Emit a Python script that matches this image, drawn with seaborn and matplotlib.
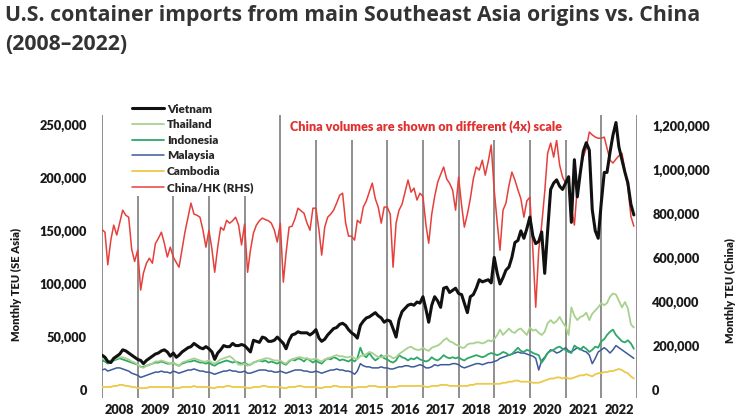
import matplotlib
matplotlib.use('Agg')
import matplotlib.pyplot as plt
import matplotlib.dates as mdates
from matplotlib.ticker import FuncFormatter
import numpy as np
import pandas as pd
import seaborn as sns

# monthly TEU in thousands, Jan 2008 - Dec 2022
vietnam = [
    33, 31, 27, 26, 30, 32, 34, 38, 37, 35, 33, 31,
    29, 28, 25, 28, 30, 32, 34, 35, 37, 38, 36, 32,
    35, 31, 33, 36, 38, 40, 41, 44, 42, 40, 39, 41,
    39, 36, 29, 35, 38, 42, 41, 41, 44, 42, 42, 43,
    42, 39, 36, 47, 46, 45, 50, 49, 46, 46, 47, 50,
    47, 44, 39, 47, 52, 53, 55, 54, 54, 54, 52, 54,
    57, 49, 46, 48, 52, 55, 58, 59, 62, 63, 61, 57,
    54, 52, 49, 61, 65, 68, 69, 71, 73, 70, 68, 64,
    66, 65, 58, 50, 66, 74, 77, 80, 81, 80, 83, 82,
    88, 76, 64, 80, 88, 84, 78, 96, 97, 92, 94, 96,
    91, 90, 82, 73, 88, 90, 96, 104, 102, 103, 104, 101,
    125, 110, 100, 106, 113, 116, 125, 139, 141, 150, 143, 152,
    163, 145, 138, 140, 149, 110, 150, 189, 195, 198, 192, 189,
    195, 201, 158, 217, 182, 205, 225, 233, 226, 170, 150, 143,
    176, 205, 205, 224, 240, 252, 229, 217, 205, 195, 175, 165,
]
thailand = [
    30, 29, 27, 28, 29, 30, 31, 31, 30, 29, 27, 26,
    24, 22, 21, 23, 24, 25, 27, 27, 28, 27, 26, 25,
    26, 24, 23, 26, 27, 28, 29, 30, 29, 28, 27, 27,
    28, 26, 25, 27, 29, 30, 31, 32, 30, 27, 24, 24,
    25, 23, 24, 26, 27, 28, 29, 30, 30, 29, 28, 28,
    28, 26, 25, 28, 29, 30, 31, 31, 30, 30, 29, 29,
    30, 28, 27, 29, 30, 31, 32, 33, 32, 32, 31, 31,
    32, 30, 29, 32, 33, 34, 36, 35, 33, 31, 31, 32,
    33, 32, 30, 31, 34, 36, 38, 40, 41, 39, 38, 38,
    40, 38, 37, 40, 41, 42, 44, 47, 49, 46, 45, 43,
    42, 40, 40, 43, 44, 44, 45, 45, 44, 45, 47, 46,
    48, 52, 57, 52, 55, 58, 55, 54, 57, 58, 55, 52,
    59, 56, 57, 54, 52, 55, 63, 66, 63, 65, 69, 64,
    60, 52, 78, 70, 66, 69, 70, 73, 66, 72, 75, 78,
    82, 80, 82, 88, 91, 90, 84, 78, 83, 77, 62, 59,
]
indonesia = [
    28, 27, 25, 27, 28, 29, 30, 29, 28, 27, 26, 25,
    24, 22, 22, 23, 24, 25, 26, 26, 27, 26, 25, 25,
    26, 24, 23, 25, 26, 27, 27, 28, 27, 26, 26, 25,
    26, 24, 23, 25, 26, 27, 28, 27, 26, 27, 26, 25,
    26, 24, 24, 26, 27, 28, 27, 28, 26, 27, 26, 25,
    27, 25, 24, 27, 29, 28, 30, 29, 27, 30, 28, 26,
    28, 26, 25, 28, 30, 29, 31, 30, 28, 29, 28, 27,
    29, 27, 30, 40, 33, 31, 35, 31, 28, 30, 33, 30,
    29, 27, 26, 28, 33, 31, 30, 28, 30, 29, 31, 29,
    28, 27, 28, 31, 29, 28, 30, 33, 31, 30, 31, 30,
    31, 29, 28, 30, 31, 32, 33, 32, 31, 32, 34, 35,
    34, 33, 34, 36, 35, 33, 34, 37, 40, 37, 36, 38,
    37, 35, 34, 33, 26, 30, 35, 37, 38, 40, 41, 39,
    38, 36, 35, 42, 40, 38, 41, 39, 36, 38, 41, 40,
    46, 48, 52, 55, 57, 52, 49, 46, 45, 47, 44, 39,
]
malaysia = [
    19, 20, 18, 19, 20, 21, 21, 20, 19, 18, 16, 15,
    14, 12, 13, 14, 15, 16, 17, 17, 18, 17, 17, 16,
    18, 17, 16, 17, 18, 19, 19, 20, 19, 18, 18, 17,
    17, 16, 15, 16, 17, 18, 18, 19, 18, 18, 17, 17,
    18, 16, 16, 17, 18, 19, 19, 19, 18, 18, 17, 17,
    18, 17, 16, 17, 18, 19, 19, 19, 18, 18, 17, 17,
    18, 17, 16, 17, 18, 19, 19, 20, 19, 19, 18, 18,
    17, 15, 18, 25, 23, 22, 22, 21, 21, 21, 22, 21,
    21, 20, 20, 21, 22, 22, 23, 23, 22, 22, 23, 24,
    23, 21, 21, 22, 24, 23, 24, 24, 24, 24, 25, 25,
    24, 22, 21, 22, 23, 24, 25, 25, 24, 25, 26, 26,
    27, 28, 30, 31, 32, 33, 34, 35, 36, 35, 35, 34,
    33, 32, 30, 19, 28, 31, 35, 38, 37, 35, 36, 38,
    40, 37, 36, 38, 40, 39, 37, 36, 33, 25, 30, 36,
    38, 40, 38, 35, 38, 42, 40, 38, 36, 34, 32, 30,
]
cambodia = [
    3, 3, 3, 3, 4, 4, 5, 5, 4, 4, 3, 3,
    2, 2, 2, 2, 3, 3, 3, 3, 3, 3, 3, 3,
    2, 2, 2, 3, 3, 3, 3, 4, 3, 3, 3, 3,
    3, 2, 2, 3, 3, 3, 4, 4, 3, 3, 3, 3,
    3, 2, 2, 3, 3, 3, 4, 4, 3, 3, 3, 3,
    3, 2, 2, 3, 3, 3, 4, 4, 3, 3, 3, 3,
    3, 2, 2, 3, 3, 3, 4, 4, 3, 3, 3, 3,
    3, 2, 3, 3, 3, 3, 4, 4, 4, 3, 3, 3,
    3, 3, 3, 3, 4, 4, 4, 4, 4, 4, 4, 4,
    4, 3, 3, 4, 4, 4, 5, 5, 5, 4, 4, 4,
    4, 4, 4, 4, 5, 5, 6, 6, 6, 6, 6, 6,
    6, 6, 6, 7, 7, 8, 8, 9, 9, 8, 8, 8,
    8, 7, 7, 7, 8, 9, 10, 11, 11, 12, 12, 11,
    12, 11, 11, 12, 13, 14, 14, 15, 14, 13, 15, 16,
    16, 17, 17, 18, 18, 19, 20, 19, 17, 16, 13, 11,
]
china = [
    730, 718, 570, 682, 750, 705, 760, 818, 795, 786, 640, 585,
    636, 455, 532, 577, 600, 577, 665, 690, 718, 668, 605, 650,
    605, 580, 559, 640, 720, 786, 850, 800, 795, 786, 727, 650,
    727, 640, 536, 650, 740, 727, 772, 759, 770, 786, 750, 660,
    755, 536, 636, 714, 750, 770, 782, 775, 770, 759, 727, 673,
    759, 491, 623, 741, 745, 780, 827, 815, 804, 760, 727, 827,
    827, 727, 614, 741, 786, 800, 818, 850, 886, 895, 760, 700,
    700, 682, 772, 759, 832, 860, 900, 941, 870, 832, 759, 832,
    832, 800, 559, 760, 818, 845, 900, 955, 900, 918, 864, 895,
    880, 750, 668, 800, 880, 945, 980, 1014, 960, 940, 909, 818,
    968, 840, 741, 800, 870, 960, 1014, 1000, 1045, 977, 1040, 1114,
    909, 760, 636, 818, 850, 930, 991, 955, 910, 870, 786, 860,
    877, 636, 377, 636, 750, 900, 1077, 1123, 1059, 1136, 1023, 968,
    941, 968, 832, 750, 923, 1000, 1059, 1100, 1173, 1160, 1150, 1145,
    1145, 1150, 1100, 1045, 1032, 1050, 1065, 1077, 1000, 920, 790, 745,
]

months = pd.date_range('2008-01-01', periods=len(vietnam), freq='MS')
year_lines = [pd.Timestamp(f'{y}-01-01') for y in range(2008, 2024)]

se_asia = {
    'Vietnam': (vietnam, '#111111', 2.2),
    'Thailand': (thailand, '#a9d18e', 1.3),
    'Indonesia': (indonesia, '#2ea869', 1.3),
    'Malaysia': (malaysia, '#3d5a9c', 1.1),
    'Cambodia': (cambodia, '#ecc94b', 1.3),
}

sns.set_style('white')
plt.rcParams['font.family'] = ['Lato', 'DejaVu Sans']
plt.rcParams['font.weight'] = 'heavy'
ink = '#1a1a1a'

fig = plt.figure(figsize=(7.44, 4.2), dpi=100)
ax = fig.add_axes([0.137, 0.052, 0.719, 0.674])
ax2 = ax.twinx()
ax.set_zorder(2)
ax2.set_zorder(1)
ax.patch.set_visible(False)

for d in year_lines:
    ax2.axvline(d, color='#8f8f8f', lw=1.4, zorder=0)

sns.lineplot(x=months, y=np.array(china) * 1000, ax=ax2, color='#e5403b', lw=1.1)

handles = {}
for name in ['Cambodia', 'Malaysia', 'Indonesia', 'Thailand', 'Vietnam']:
    vals, col, lw = se_asia[name]
    sns.lineplot(x=months, y=np.array(vals) * 1000, ax=ax, color=col, lw=lw)
    handles[name] = ax.lines[-1]
handles['China/HK (RHS)'] = ax2.lines[-1]

order = ['Vietnam', 'Thailand', 'Indonesia', 'Malaysia', 'Cambodia', 'China/HK (RHS)']
leg = ax.legend([handles[k] for k in order], order, loc='upper left',
                bbox_to_anchor=(0.05, 1.053), fontsize=8.5, frameon=True,
                handlelength=2.7, handletextpad=0.25, labelspacing=0.39,
                borderpad=0.3, borderaxespad=0)
leg.get_frame().set_facecolor('white')
leg.get_frame().set_edgecolor('none')
leg.get_frame().set_alpha(1)

ax.text(0.351, 0.958, 'China volumes are shown on different (4x) scale',
        transform=ax.transAxes, color='#e0312f', fontsize=9.1,
        va='center', ha='left',
        bbox=dict(facecolor='white', edgecolor='none', pad=4.5))

ax.set_xlim(year_lines[0], year_lines[-1])
ax.set_ylim(-7500, 259000)
ax2.set_ylim(-36000, 1250000)

ax.xaxis.set_major_locator(mdates.YearLocator(month=7, day=1))
ax.xaxis.set_major_formatter(mdates.DateFormatter('%Y'))
ax.set_yticks(range(0, 250001, 50000))
ax2.set_yticks(range(0, 1200001, 200000))
comma = FuncFormatter(lambda v, p: f'{v:,.0f}')
ax.yaxis.set_major_formatter(comma)
ax2.yaxis.set_major_formatter(comma)

ax.tick_params(axis='x', length=0, pad=4, labelsize=9.2, colors=ink)
ax.tick_params(axis='y', length=0, pad=11, labelsize=9.2, colors=ink)
ax2.tick_params(axis='y', length=0, pad=11, labelsize=9.2, colors=ink)

ax.set_xlabel('')
ax.set_ylabel('Monthly TEU (SE Asia)', fontsize=8, fontweight='heavy', color=ink)
ax2.set_ylabel('Monthly TEU (China)', fontsize=8, fontweight='heavy', color=ink)
ax.yaxis.set_label_coords(-0.15, 0.40)
ax2.yaxis.set_label_coords(1.164, 0.38)

for a in (ax, ax2):
    for s in a.spines.values():
        s.set_visible(False)

fig.text(0.007, 0.988,
         'U.S. container imports from main Southeast Asia origins vs. China\n(2008\u20132022)',
         fontsize=15.3, fontweight='bold', family=['Open Sans', 'DejaVu Sans'],
         color='#333333', va='top', ha='left', linespacing=1.5)

fig.savefig('out.png', dpi=100)
